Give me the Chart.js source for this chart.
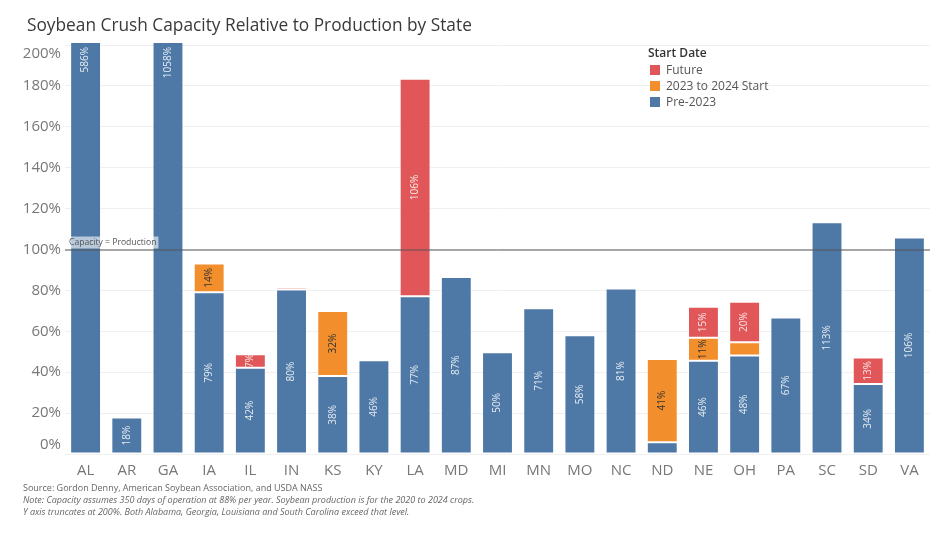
<!DOCTYPE html>
<html>
<head>
<meta charset="utf-8">
<script src="https://cdn.jsdelivr.net/npm/chart.js@4.4.1/dist/chart.umd.min.js"></script>
<style>
  html, body { margin: 0; padding: 0; background: #fff; }
  #wrap { position: relative; width: 936px; height: 550px; font-family: "Open Sans", sans-serif; }
  #chart { position: absolute; left: 0; top: 0; }
  .title { position: absolute; left: 27px; top: 13px; font-size: 17.3px; color: #3a3a3a; white-space: nowrap; }
  .legend { position: absolute; left: 648px; top: 44px; font-size: 12px; color: #555; }
  .legend .head { color: #333; font-weight: 600; margin-bottom: 1px; }
  .legend .item { height: 16px; line-height: 16px; white-space: nowrap; }
  .legend .sw { display: inline-block; width: 10px; height: 10px; margin: 0 6px 0 2px; vertical-align: -1px; }
  .foot { position: absolute; left: 23px; top: 482px; font-size: 9px; color: #666; line-height: 12px; white-space: nowrap; }
  .foot i { display: block; }
</style>
</head>
<body>
<div id="wrap">
  <canvas id="chart" width="936" height="550"></canvas>
  <div class="title">Soybean Crush Capacity Relative to Production by State</div>
  <div class="legend">
    <div class="head">Start Date</div>
    <div class="item"><span class="sw" style="background:#e15759"></span>Future</div>
    <div class="item"><span class="sw" style="background:#f28e2b"></span>2023 to 2024 Start</div>
    <div class="item"><span class="sw" style="background:#4e79a7"></span>Pre-2023</div>
  </div>
  <div class="foot">
    Source: Gordon Denny, American Soybean Association, and USDA NASS
    <i>Note: Capacity assumes 350 days of operation at 88% per year. Soybean production is for the 2020 to 2024 crops.</i>
    <i>Y axis truncates at 200%. Both Alabama, Georgia, Louisiana and South Carolina exceed that level.</i>
  </div>
</div>
<script>
const states = ['AL', 'AR', 'GA', 'IA', 'IL', 'IN', 'KS', 'KY', 'LA', 'MD', 'MI', 'MN', 'MO', 'NC', 'ND', 'NE', 'OH', 'PA', 'SC', 'SD', 'VA'];
const pre2023 = [586, 17.8, 1058, 79.1, 42.2, 80.4, 38.1, 45.9, 77.2, 86.6, 49.7, 71.3, 58.1, 80.9, 5.8, 45.6, 48.2, 66.8, 113.3, 34.2, 105.9];
const start2023to2024 = [0, 0, 0, 14.1, 0, 0, 31.8, 0, 0, 0, 0, 0, 0, 0, 40.6, 11.2, 6.4, 0, 0, 0, 0];
const future = [0, 0, 0, 0, 6.6, 1.2, 0, 0, 106.3, 0, 0, 0, 0, 0, 0, 15.2, 19.8, 0, 0, 13.0, 0];
const yTicks = [0, 20, 40, 60, 80, 100, 120, 140, 160, 180, 200];
const refValue = 100;
const refLabel = 'Capacity = Production';

const ctx = document.getElementById('chart').getContext('2d');

// bar labels, rotated, white on blue/red, dark on orange
const barLabels = {
    id: 'barLabels',
    afterDatasetsDraw(chart) {
        const c = chart.ctx;
        const area = chart.chartArea;
        c.save();
        c.font = '10px "Open Sans", sans-serif';
        c.textBaseline = 'middle';
        chart.data.datasets.forEach((ds, di) => {
            const meta = chart.getDatasetMeta(di);
            meta.data.forEach((el, i) => {
                const v = ds.data[i];
                if (!v || v < 6.5) return; // small pieces get no label
                const text = Math.round(v) + '%';
                c.fillStyle = ds.labelColor;
                c.save();
                if (el.y < area.top) {
                    // truncated bar: label sits at the top
                    c.translate(el.x, area.top + 4);
                    c.rotate(-Math.PI / 2);
                    c.textAlign = 'right';
                } else {
                    c.translate(el.x, (el.y + el.base) / 2);
                    c.rotate(-Math.PI / 2);
                    c.textAlign = 'center';
                }
                c.fillText(text, 0, 0);
                c.restore();
            });
        });
        c.restore();
    }
};

// 100% reference line and its label
const refLine = {
    id: 'refLine',
    afterDatasetsDraw(chart) {
        const c = chart.ctx;
        const area = chart.chartArea;
        const y = chart.scales.y.getPixelForValue(refValue);
        c.save();
        c.strokeStyle = '#555';
        c.lineWidth = 1;
        c.beginPath();
        c.moveTo(area.left, y + 0.5);
        c.lineTo(area.right, y + 0.5);
        c.stroke();
        c.font = '8.6px "Open Sans", sans-serif';
        const w = c.measureText(refLabel).width;
        c.fillStyle = 'rgba(255,255,255,0.6)';
        c.fillRect(area.left + 2, y - 13, w + 4, 12);
        c.fillStyle = '#555';
        c.textBaseline = 'middle';
        c.textAlign = 'left';
        c.fillText(refLabel, area.left + 4, y - 7);
        c.restore();
    }
};

// y tick labels kept inside the plot height, like the original
const yLabels = {
    id: 'yLabels',
    afterDraw(chart) {
        const c = chart.ctx;
        const area = chart.chartArea;
        const scale = chart.scales.y;
        c.save();
        c.font = '15px "Open Sans", sans-serif';
        c.fillStyle = '#777';
        c.textAlign = 'right';
        c.textBaseline = 'middle';
        yTicks.forEach((v) => {
            let y = scale.getPixelForValue(v);
            y = Math.min(Math.max(y, area.top + 11), area.bottom - 9);
            c.fillText(v + '%', area.left - 4, y);
        });
        c.restore();
    }
};

new Chart(ctx, {
    type: 'bar',
    data: {
        labels: states,
        datasets: [
            { label: 'Pre-2023', data: pre2023, backgroundColor: '#4e79a7', labelColor: 'rgba(255,255,255,0.85)' },
            { label: '2023 to 2024 Start', data: start2023to2024, backgroundColor: '#f28e2b', labelColor: '#333' },
            { label: 'Future', data: future, backgroundColor: '#e15759', labelColor: 'rgba(255,255,255,0.85)' },
        ].map((d) => Object.assign(d, {
            borderColor: 'rgba(255,255,255,0.25)',
            borderWidth: 1,
            borderSkipped: false,
            barPercentage: 0.75,
            categoryPercentage: 1.0,
        })),
    },
    options: {
        responsive: false,
        animation: false,
        layout: { padding: { top: 43, bottom: 66, left: 0, right: 6 } },
        plugins: {
            legend: { display: false },
            tooltip: { enabled: false },
        },
        scales: {
            x: {
                stacked: true,
                grid: { display: false },
                border: { display: false },
                ticks: { color: '#777', font: { size: 15, family: '"Open Sans", sans-serif' }, padding: 0 },
                afterFit(scale) { scale.height = 30; },
            },
            y: {
                stacked: true,
                min: 0,
                max: 201,
                afterBuildTicks(scale) { scale.ticks = yTicks.map((v) => ({ value: v })); },
                grid: { color: '#f0f0f0', drawTicks: false },
                border: { display: false },
                ticks: { display: false },
                afterFit(scale) { scale.width = 65; },
            },
        },
    },
    plugins: [barLabels, refLine, yLabels],
});
</script>
</body>
</html>
